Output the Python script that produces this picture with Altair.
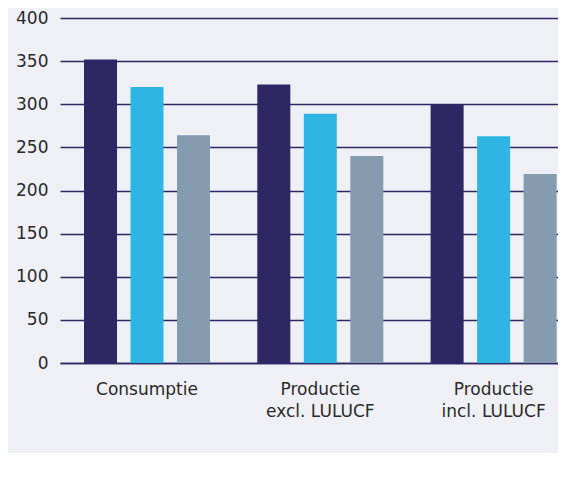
import altair as alt
import pandas as pd

categories = ["Consumptie", "Productie\nexcl. LULUCF", "Productie\nincl. LULUCF"]
series = ["Reeks 1", "Reeks 2", "Reeks 3"]
values_s1 = [352, 323, 300]
values_s2 = [320, 289, 263]
values_s3 = [264, 240, 219]
colors = ["#2d2764", "#2fb5e3", "#849bb0"]

rows = []
for i, c in enumerate(categories):
    for s, vals in zip(series, [values_s1, values_s2, values_s3]):
        rows.append({"categorie": c, "reeks": s, "waarde": vals[i]})
df = pd.DataFrame(rows)

font = "DejaVu Sans"

chart = alt.Chart(df).mark_bar().encode(
    x=alt.X("categorie:N", sort=categories, title=None,
            scale=alt.Scale(paddingInner=0.273, paddingOuter=0.0733, align=0.945),
            axis=alt.Axis(labelAngle=0, labelExpr="split(datum.label, '\\n')",
                          labelFont=font, labelFontSize=17, labelColor="#2a2a2a",
                          labelPadding=18, labelLineHeight=22, ticks=False,
                          domain=True, domainColor="#2d2764", domainWidth=1.5,
                          labelBaseline="top")),
    xOffset=alt.XOffset("reeks:N", sort=series,
                        scale=alt.Scale(paddingInner=0.29, paddingOuter=0)),
    y=alt.Y("waarde:Q", title=None,
            scale=alt.Scale(domain=[0, 400], nice=False),
            axis=alt.Axis(values=[0, 50, 100, 150, 200, 250, 300, 350, 400],
                          grid=True, gridColor="#2d2764", gridWidth=1.5,
                          domain=False, ticks=False, labelPadding=12,
                          labelFont=font, labelFontSize=17, labelColor="#2a2a2a")),
    color=alt.Color("reeks:N", sort=series,
                    scale=alt.Scale(domain=series, range=colors), legend=None),
).properties(
    width=498, height=345,
    background="#eff0f5",
    autosize=alt.AutoSizeParams(type="none"),
    padding={"left": 52, "top": 10, "right": 0, "bottom": 90},
).configure_view(stroke=None)

chart.save("out.html", embed_options={"renderer": "svg", "actions": False})
